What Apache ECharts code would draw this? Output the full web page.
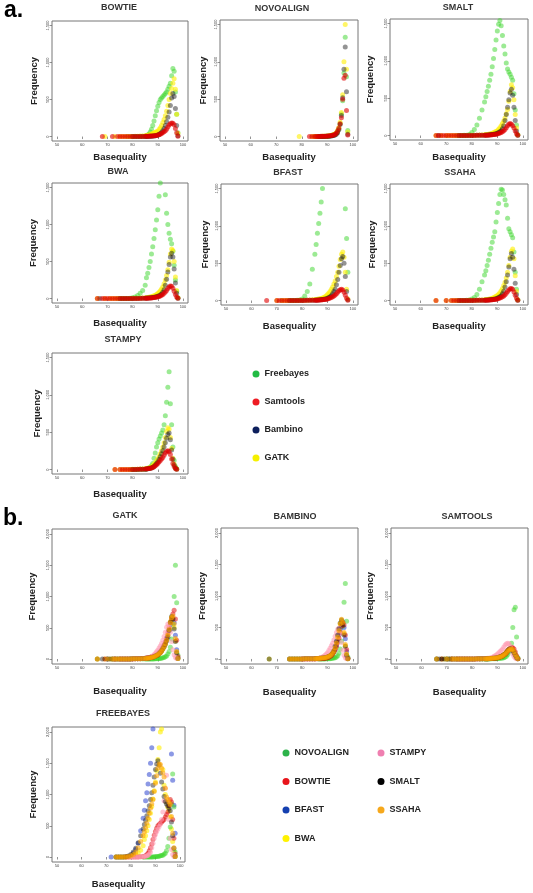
<!DOCTYPE html>
<html>
<head>
<meta charset="utf-8">
<script src="https://cdn.jsdelivr.net/npm/echarts@6/dist/echarts.min.js"></script>
<style>html,body{margin:0;padding:0;background:#fff;}#c{width:533px;height:893px;}</style>
</head>
<body>
<div id="c"></div>
<script>
const _ = null;
// Basequality grid (x values of the points)
const BQ = [66,67,68,69,70,71,72,73,74,75,
  76,77,78,79,80,81,82,83,84,85,
  85.5,86,86.5,87,87.5,88,88.5,89,89.5,90,
  90.5,91,91.5,92,92.5,93,93.5,94,94.5,95,
  95.5,96,96.5,97,97.5,98];

const X_TICKS = [50,60,70,80,90,100];
const Y_TICKS_A = [0,500,1000,1500];
const Y_TICKS_B = [0,500,1000,1500,2000];

const BOWTIE_FREEBAYES = [_,_,_,_,_,_,_,_,_,_, _,_,0,0,0,1,1,2,3,5, 10,20,35,60,100,150,210,280,350,410, 460,500,520,540,560,580,600,640,680,720, 820,920,880,600,300,50];
const BOWTIE_SAMTOOLS  = [_,_,0,_,_,_,0,_,0,0, 0,0,0,0,0,0,1,1,2,3, 3,4,5,6,7,8,10,12,15,20, 25,32,40,55,65,80,100,130,155,172, 182,178,160,110,50,5];
const BOWTIE_BAMBINO   = [_,_,_,_,_,_,_,_,_,_, _,_,_,_,0,0,0,0,1,1, 2,2,3,4,5,6,8,10,15,20, 28,40,55,80,110,150,200,260,330,420, 520,580,540,380,150,10];
const BOWTIE_GATK      = [_,_,_,0,_,_,_,0,_,0, 0,0,1,1,2,3,4,6,8,12, 15,18,22,28,35,42,50,58,65,70, 95,120,150,190,230,280,340,420,500,580, 650,720,780,640,300,40];

const NOVOALIGN_FREEBAYES = [_,_,_,_,_,_,_,_,_,_, _,_,_,_,_,_,_,_,_,0, 0,0,0,0,0,1,1,2,3,5, 7,10,14,20,25,30,45,60,100,170, 300,480,850,1330,800,80];
const NOVOALIGN_SAMTOOLS  = [_,_,_,_,_,_,_,_,_,_, _,_,_,_,_,_,_,0,0,0, 0,1,1,1,2,2,3,4,5,6, 8,10,13,16,20,30,45,70,110,170, 250,500,780,820,350,20];
const NOVOALIGN_BAMBINO   = [_,_,_,_,_,_,_,_,_,_, _,_,_,_,_,_,_,_,_,_, _,_,0,0,0,0,1,1,2,3, 4,5,7,10,14,20,30,50,90,160, 280,520,900,1200,600,30];
const NOVOALIGN_GATK      = [_,_,_,_,_,_,_,_,_,_, _,_,_,0,_,_,_,_,0,0, 0,0,1,1,1,2,2,3,4,6, 8,10,14,20,25,35,50,80,120,190, 320,560,1000,1500,900,60];

const SMALT_FREEBAYES = [_,_,_,_,_,_,_,_,0,0, 1,2,5,15,40,80,140,230,340,450, 520,590,660,740,820,920,1030,1150,1280,1400, 1490,1540,1470,1340,1200,1090,970,890,850,820, 780,740,560,340,140,10];
const SMALT_SAMTOOLS  = [0,0,0,0,0,0,0,0,0,0, 0,0,0,1,1,1,2,2,3,4, 4,5,6,7,8,10,12,14,17,20, 27,35,42,50,65,80,105,130,150,162, 150,130,100,60,25,3];
const SMALT_BAMBINO   = [_,0,_,_,_,_,_,_,_,0, 0,0,0,1,1,2,2,3,4,5, 6,7,8,10,12,14,17,20,25,30, 40,50,65,90,130,200,280,380,480,570, 620,540,380,200,60,5];
const SMALT_GATK      = [0,_,0,_,0,0,0,0,0,0, 0,1,1,2,3,4,5,6,8,10, 12,14,17,20,24,30,38,46,55,65, 85,105,130,160,195,235,290,350,460,590, 680,640,480,280,100,10];

const BWA_FREEBAYES = [_,_,_,_,_,_,_,_,0,0, 0,1,2,5,10,20,40,70,110,180, 280,340,420,500,600,700,810,930,1060,1200, 1380,1560,1750,2000,2050,1400,1150,1000,880,800, 740,640,450,250,100,10];
const BWA_SAMTOOLS  = [0,_,0,0,0,0,0,0,0,0, 0,0,0,1,1,1,2,2,3,4, 4,5,6,7,9,11,13,16,19,23, 28,35,45,55,70,90,110,135,155,170, 165,140,100,55,20,3];
const BWA_BAMBINO   = [_,0,_,_,_,_,_,_,_,0, 0,0,0,1,1,2,2,3,4,5, 6,7,8,10,12,14,17,20,25,30, 38,48,60,85,120,180,260,360,460,560, 610,560,400,210,70,5];
const BWA_GATK      = [0,_,_,0,_,0,0,0,0,0, 0,1,1,2,3,4,5,6,8,10, 12,14,17,20,25,30,38,46,56,68, 85,105,130,160,200,250,310,390,490,600, 670,650,500,290,110,10];

const BFAST_FREEBAYES = [_,_,_,_,_,_,0,_,0,0, 0,1,3,8,20,60,120,220,420,620, 750,900,1030,1170,1320,1500,1750,2050,_,_, _,_,_,_,_,_,_,_,_,_, _,_,1650,1230,830,380];
const BFAST_SAMTOOLS  = [0,_,_,_,0,0,0,0,0,0, 0,0,0,1,1,1,2,2,3,4, 4,5,6,7,8,10,12,14,17,22, 28,35,42,52,62,75,90,110,130,145, 150,140,110,70,30,5];
const BFAST_BAMBINO   = [_,_,_,_,_,_,_,_,_,0, 0,0,0,1,1,2,2,3,4,5, 6,7,8,10,12,14,17,20,25,30, 40,50,65,90,120,150,210,280,380,470, 560,590,500,320,120,10];
const BFAST_GATK      = [_,_,_,_,0,_,0,0,0,0, 0,1,1,2,3,4,5,7,9,12, 14,17,20,24,28,33,42,52,65,80, 100,120,150,180,220,260,320,380,460,550, 620,650,580,380,150,20];

const SSAHA_FREEBAYES = [_,_,_,_,_,_,_,_,0,0, 0,1,3,8,20,40,80,150,250,340, 400,470,540,620,700,780,850,920,1050,1180, 1300,1420,1490,1480,1420,1350,1280,1100,960,920, 880,840,650,380,150,10];
const SSAHA_SAMTOOLS  = [0,_,_,_,0,_,0,0,0,0, 0,0,0,1,1,1,2,2,3,4, 4,5,6,7,8,10,12,14,17,20, 26,33,40,50,62,78,98,122,142,156, 160,150,115,70,30,3];
const SSAHA_BAMBINO   = [_,_,_,_,_,_,_,_,_,0, 0,0,0,1,1,2,2,3,4,5, 6,7,8,10,12,14,17,20,25,30, 40,50,65,90,125,180,250,340,450,560, 630,580,420,230,80,5];
const SSAHA_GATK      = [0,_,_,_,0,_,0,0,0,0, 0,1,1,2,3,4,5,6,8,10, 12,14,17,20,25,30,38,46,56,68, 85,105,130,160,200,245,300,380,470,580, 660,690,560,330,120,10];

const STAMPY_FREEBAYES = [_,_,_,_,_,_,_,_,_,_, _,_,_,0,0,0,1,2,3,5, 8,12,20,30,50,80,150,220,300,360, 410,450,490,530,600,720,900,1100,1310,880, 600,300,120,40,10,_];
const STAMPY_SAMTOOLS  = [_,_,_,_,_,_,_,0,_,0, 0,0,0,0,1,1,2,3,4,6, 8,10,13,16,20,28,38,50,64,80, 100,120,140,160,190,220,240,250,240,200, 140,80,40,15,5,_];
const STAMPY_BAMBINO   = [_,_,_,_,_,_,_,_,_,_, _,_,_,_,0,0,1,2,3,5, 7,9,12,16,22,30,42,60,80,100, 135,170,210,250,300,360,420,470,490,400, 260,140,60,20,5,_];
const STAMPY_GATK      = [_,_,_,_,_,_,_,0,_,0, 0,0,1,1,2,3,4,6,8,10, 13,16,20,25,35,50,70,90,115,140, 175,210,250,300,360,430,510,560,540,430, 280,150,70,25,8,_];

const ALIGNERS = ['NOVOALIGN','BOWTIE','BFAST','BWA','STAMPY','SMALT','SSAHA'];
const CALLERS = ['Freebayes','Samtools','Bambino','GATK'];

// lookup built from the named arrays above
const TABLE = {
  BOWTIE:   {Freebayes:BOWTIE_FREEBAYES, Samtools:BOWTIE_SAMTOOLS, Bambino:BOWTIE_BAMBINO, GATK:BOWTIE_GATK},
  NOVOALIGN:{Freebayes:NOVOALIGN_FREEBAYES, Samtools:NOVOALIGN_SAMTOOLS, Bambino:NOVOALIGN_BAMBINO, GATK:NOVOALIGN_GATK},
  SMALT:    {Freebayes:SMALT_FREEBAYES, Samtools:SMALT_SAMTOOLS, Bambino:SMALT_BAMBINO, GATK:SMALT_GATK},
  BWA:      {Freebayes:BWA_FREEBAYES, Samtools:BWA_SAMTOOLS, Bambino:BWA_BAMBINO, GATK:BWA_GATK},
  BFAST:    {Freebayes:BFAST_FREEBAYES, Samtools:BFAST_SAMTOOLS, Bambino:BFAST_BAMBINO, GATK:BFAST_GATK},
  SSAHA:    {Freebayes:SSAHA_FREEBAYES, Samtools:SSAHA_SAMTOOLS, Bambino:SSAHA_BAMBINO, GATK:SSAHA_GATK},
  STAMPY:   {Freebayes:STAMPY_FREEBAYES, Samtools:STAMPY_SAMTOOLS, Bambino:STAMPY_BAMBINO, GATK:STAMPY_GATK}
};

// ---- styling / layout ----
const FONT = '"Liberation Sans", Arial, sans-serif';
const CALLER_COLOR = {Freebayes:['#3ad62a',0.5], Samtools:['#e00000',0.6], Bambino:['#111111',0.45], GATK:['#ffee00',0.6]};
const ALIGNER_COLOR = {NOVOALIGN:['#3ad62a',0.5], BOWTIE:['#e00000',0.5], BFAST:['#1a33cc',0.5], BWA:['#ffee00',0.6], STAMPY:['#ff9fb5',0.6], SMALT:['#111111',0.45], SSAHA:['#ffa500',0.6]};
const CALLER_LEGEND = {Freebayes:'#22bb44', Samtools:'#ee1c24', Bambino:'#0d1f5c', GATK:'#f5f000'};
const ALIGNER_LEGEND = {NOVOALIGN:'#2db34a', BOWTIE:'#e8151b', BFAST:'#1540b0', BWA:'#fff200', STAMPY:'#ef7fb0', SMALT:'#000000', SSAHA:'#f6a81c'};
const A_DRAW = ['Freebayes','GATK','Bambino','Samtools'];
const B_DRAW = ['BFAST','BWA','NOVOALIGN','BOWTIE','STAMPY','SMALT','SSAHA'];

const PANELS_A = [
  {name:'BOWTIE',    box:[52,21,136,120],  t:[119,8],   xg:11.5, yg:13},
  {name:'NOVOALIGN', box:[220,20,138,121], t:[282,9],   xg:11.5, yg:12},
  {name:'SMALT',     box:[390,19,138,121], t:[458,8],   xg:12.5, yg:15},
  {name:'BWA',       box:[52,183,136,120], t:[118,172], xg:15.5, yg:14},
  {name:'BFAST',     box:[221,184,137,121],t:[288,173], xg:16.5, yg:11},
  {name:'SSAHA',     box:[390,184,138,121],t:[460,173], xg:16.5, yg:13},
  {name:'STAMPY',    box:[52,353,136,121], t:[123,340], xg:15.5, yg:10}
];
const PANELS_B = [
  {name:'GATK',      caller:'GATK',      box:[52,529,136,135],  t:[125,516], xg:22.5, yg:15},
  {name:'BAMBINO',   caller:'Bambino',   box:[221,528,137,136], t:[295,517], xg:23.5, yg:14},
  {name:'SAMTOOLS',  caller:'Samtools',  box:[391,528,137,136], t:[467,517], xg:23.5, yg:16},
  {name:'FREEBAYES', caller:'Freebayes', box:[52,727,133,135],  t:[123,714], xg:17.5, yg:14}
];

function pts(arr){
  const out = [];
  for (let i = 0; i < BQ.length; i++) if (arr[i] != null) out.push([BQ[i], arr[i]]);
  return out;
}
const nameStyle = {fontFamily:FONT, fontWeight:'bold', fontSize:9.5, color:'#222'};
function xAxis(gi, gap){
  return {gridIndex:gi, type:'value', min:48, max:102, name:'Basequality', nameLocation:'middle', nameGap:gap,
    nameTextStyle:nameStyle, axisLine:{show:false}, splitLine:{show:false},
    axisTick:{show:true, inside:false, length:2.5, lineStyle:{color:'#666', width:0.7}, customValues:X_TICKS},
    axisLabel:{show:true, fontSize:4, color:'#444', margin:2, fontFamily:FONT, customValues:X_TICKS}};
}
function yAxis(gi, gap, lo, hi, ticks){
  return {gridIndex:gi, type:'value', min:lo, max:hi, name:'Frequency', nameLocation:'middle', nameGap:gap,
    nameTextStyle:nameStyle, axisLine:{show:false}, splitLine:{show:false},
    axisTick:{show:true, inside:false, length:2.5, lineStyle:{color:'#666', width:0.7}, customValues:ticks},
    axisLabel:{show:true, fontSize:4, color:'#444', margin:2, rotate:90, fontFamily:FONT, customValues:ticks}};
}

const grids = [], xAxes = [], yAxes = [], series = [], graphics = [];
const gridBase = {show:true, borderColor:'#777', borderWidth:1, backgroundColor:'transparent', containLabel:false, outerBoundsMode:'none'};

PANELS_A.forEach((p, gi) => {
  grids.push(Object.assign({left:p.box[0], top:p.box[1], width:p.box[2], height:p.box[3]}, gridBase));
  xAxes.push(xAxis(gi, p.xg));
  yAxes.push(yAxis(gi, p.yg, -60, 1560, Y_TICKS_A));
  A_DRAW.forEach(c => {
    series.push({type:'scatter', name:c, xAxisIndex:gi, yAxisIndex:gi, symbol:'circle', symbolSize:5, clip:true,
      itemStyle:{color:CALLER_COLOR[c][0], opacity:CALLER_COLOR[c][1]}, data:pts(TABLE[p.name][c]), silent:true});
  });
  graphics.push({type:'text', x:p.t[0], y:p.t[1], style:{text:p.name, font:'bold 9px ' + FONT, fill:'#333', align:'center', verticalAlign:'middle'}});
});
PANELS_B.forEach((p, k) => {
  const gi = PANELS_A.length + k;
  grids.push(Object.assign({left:p.box[0], top:p.box[1], width:p.box[2], height:p.box[3]}, gridBase));
  xAxes.push(xAxis(gi, p.xg));
  yAxes.push(yAxis(gi, p.yg, -80, 2080, Y_TICKS_B));
  B_DRAW.forEach(a => {
    series.push({type:'scatter', name:a, xAxisIndex:gi, yAxisIndex:gi, symbol:'circle', symbolSize:5, clip:true,
      itemStyle:{color:ALIGNER_COLOR[a][0], opacity:ALIGNER_COLOR[a][1]}, data:pts(TABLE[a][p.caller]), silent:true});
  });
  graphics.push({type:'text', x:p.t[0], y:p.t[1], style:{text:p.name, font:'bold 9px ' + FONT, fill:'#333', align:'center', verticalAlign:'middle'}});
});
graphics.push({type:'text', x:4, y:11, style:{text:'a.', font:'bold 23px ' + FONT, fill:'#000', align:'left', verticalAlign:'middle'}});
graphics.push({type:'text', x:3, y:519, style:{text:'b.', font:'bold 23px ' + FONT, fill:'#000', align:'left', verticalAlign:'middle'}});

const legendText = {fontFamily:FONT, fontWeight:'bold', fontSize:9, color:'#222'};
function legend(left, top, gap, names, colors){
  return {orient:'vertical', left:left, top:top, itemWidth:7, itemHeight:7, itemGap:gap, padding:0, icon:'circle',
    selectedMode:false, textStyle:legendText,
    data:names.map(n => ({name:n, icon:'circle', itemStyle:{color:colors[n], opacity:1}}))};
}

const chart = echarts.init(document.getElementById('c'), null, {renderer:'canvas'});
chart.setOption({
  animation:false,
  backgroundColor:'#fff',
  grid:grids, xAxis:xAxes, yAxis:yAxes, series:series,
  legend:[
    legend(252.5, 369.5, 19, CALLERS, CALLER_LEGEND),
    legend(282.5, 748.5, 19.5, ['NOVOALIGN','BOWTIE','BFAST','BWA'], ALIGNER_LEGEND),
    legend(377.5, 748.5, 19.5, ['STAMPY','SMALT','SSAHA'], ALIGNER_LEGEND)
  ],
  graphic:graphics
});
</script>
</body>
</html>
